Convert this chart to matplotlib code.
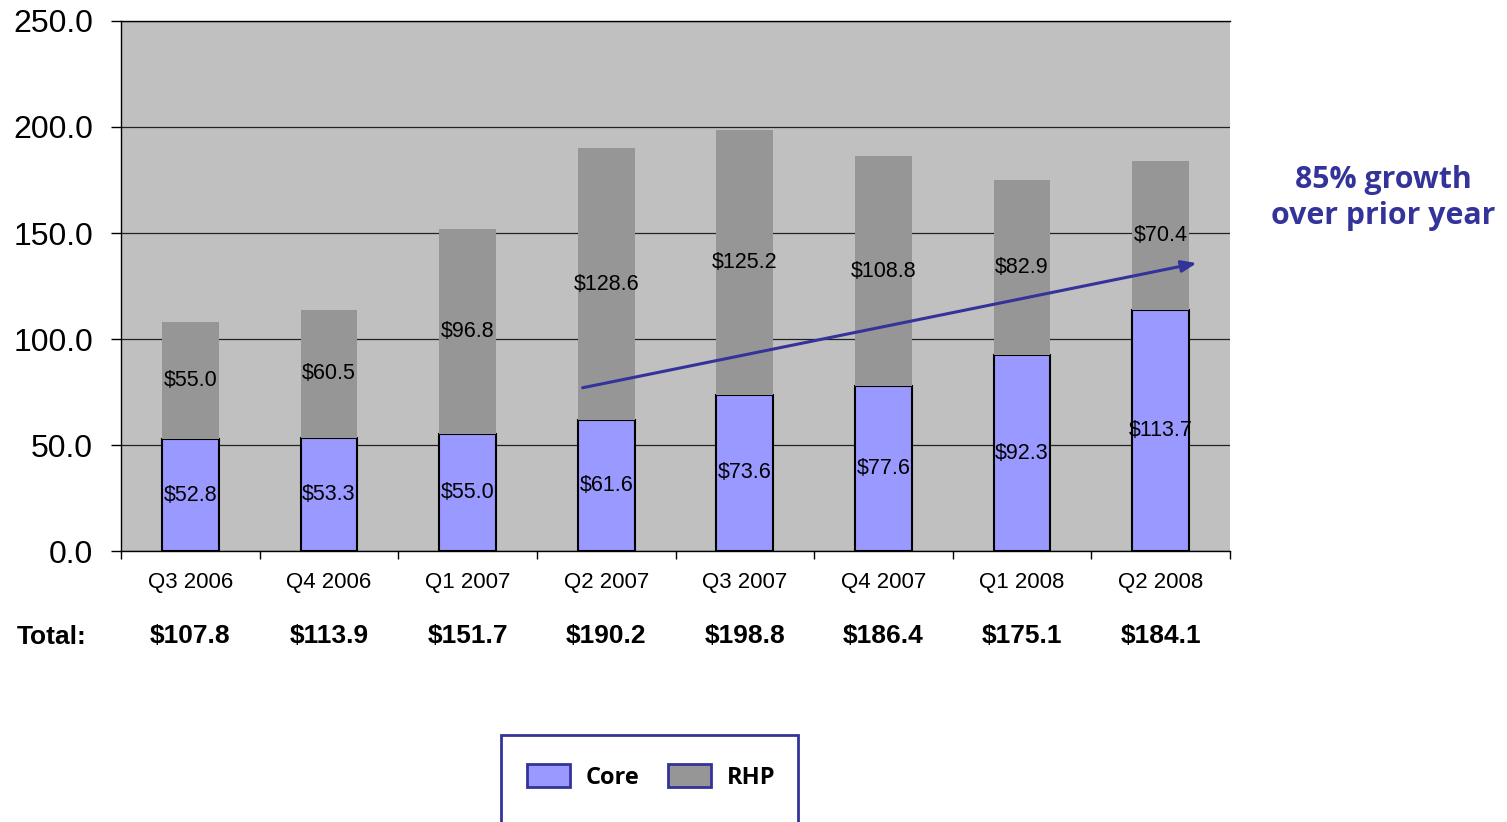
import matplotlib
matplotlib.use("Agg")
import matplotlib.pyplot as plt
import matplotlib.transforms as mtransforms
from matplotlib.patches import Patch, Rectangle
import numpy as np

categories = ["Q3 2006", "Q4 2006", "Q1 2007", "Q2 2007", "Q3 2007", "Q4 2007", "Q1 2008", "Q2 2008"]
core = [52.8, 53.3, 55.0, 61.6, 73.6, 77.6, 92.3, 113.7]
rhp = [55.0, 60.5, 96.8, 128.6, 125.2, 108.8, 82.9, 70.4]
totals = [107.8, 113.9, 151.7, 190.2, 198.8, 186.4, 175.1, 184.1]
yticks = [0, 50, 100, 150, 200, 250]
arrow_start = (2.83, 77.0)
arrow_end = (7.26, 135.8)

CORE_C = "#9999FF"
RHP_C = "#969696"
NAVY = "#333399"

fig = plt.figure(figsize=(15.07, 8.22), dpi=100)
ax = fig.add_axes([121/1507, 271/822, 1109/1507, 530/822])
ax.set_facecolor("#C0C0C0")

x = np.arange(len(categories))
w = 0.41
ax.bar(x, core, width=w, color=CORE_C, edgecolor="black", linewidth=1.5, zorder=3)
ax.bar(x, rhp, width=w, bottom=core, color=RHP_C, edgecolor="none", zorder=3)

for i in range(len(categories)):
    ax.text(x[i], core[i] / 2, f"${core[i]:.1f}", ha="center", va="center",
            fontsize=15.5, family="Liberation Sans", zorder=5)
    ax.text(x[i], core[i] + rhp[i] / 2, f"${rhp[i]:.1f}", ha="center", va="center",
            fontsize=15.5, family="Liberation Sans", zorder=5)

ax.set_xlim(-0.5, len(categories) - 0.5)
ax.set_ylim(0, 250)
ax.set_yticks(yticks)
ax.set_yticklabels([f"{v:.1f}" for v in yticks], family="Liberation Sans", fontsize=23)
ax.tick_params(axis="y", length=7, width=1, pad=13, direction="out")
ax.set_xticks(x)
ax.set_xticklabels(categories, family="Liberation Sans", fontsize=16)
ax.set_xticks(np.arange(-0.5, len(categories)), minor=True)
ax.tick_params(axis="x", which="major", length=0, pad=15)
ax.tick_params(axis="x", which="minor", length=6, width=1, direction="out")
ax.yaxis.grid(True, color="#222222", linewidth=0.9, zorder=1)
ax.set_axisbelow(True)
for s in ["right"]:
    ax.spines[s].set_visible(False)
for s in ["left", "bottom", "top"]:
    ax.spines[s].set_color("black")
    ax.spines[s].set_linewidth(1)

trans = mtransforms.blended_transform_factory(ax.transData, ax.transAxes)
for i in range(len(categories)):
    ax.text(x[i], -0.16, f"${totals[i]:.1f}", transform=trans, ha="center", va="center",
            fontsize=19, fontweight="bold", family="Liberation Sans")
ax.text(-0.063, -0.162, "Total:", transform=ax.transAxes, ha="center", va="center",
        fontsize=19, fontweight="bold", family="Liberation Sans")

ax.annotate("", xy=arrow_end, xytext=arrow_start,
            arrowprops=dict(arrowstyle="-|>,head_length=0.9,head_width=0.35", color=NAVY,
                            lw=2.2, shrinkA=0, shrinkB=0), zorder=6)

fig.text(1383/1507, (822-198)/822, "85% growth\nover prior year", ha="center", va="center",
         fontsize=21.8, fontweight="bold", color=NAVY, family="Open Sans", linespacing=1.25)

handles = [Patch(facecolor=CORE_C, edgecolor=NAVY, linewidth=2, label="Core"),
           Patch(facecolor=RHP_C, edgecolor=NAVY, linewidth=2, label="RHP")]
fig.legend(handles=handles, loc="center", bbox_to_anchor=(651/1507, (822-777)/822), ncol=2,
           frameon=False, prop=dict(family="Open Sans", weight="bold", size=17),
           handlelength=1.85, handleheight=1.1, handletextpad=0.65, columnspacing=1.2)
fig.patches.append(Rectangle((501/1507, -0.05), 297/1507, (822-735)/822 + 0.05,
                             transform=fig.transFigure, fill=False, edgecolor=NAVY,
                             linewidth=2, figure=fig))

fig.savefig("out.png", dpi=100, facecolor="white")
